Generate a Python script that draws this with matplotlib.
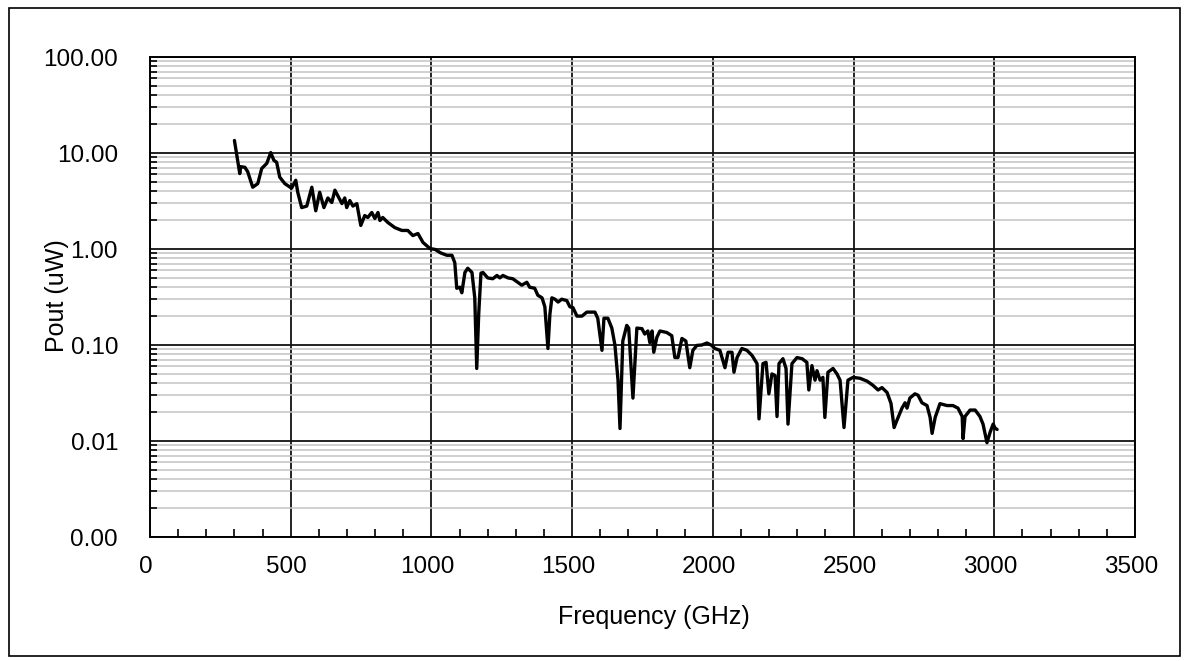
import matplotlib
matplotlib.use("Agg")
import matplotlib.pyplot as plt
import matplotlib.ticker as mticker
import matplotlib.transforms as mtransforms
from matplotlib.patches import Rectangle

# ---- data ----
freq_ghz = [300, 319, 322, 337, 347, 365, 383, 397, 415, 429, 440, 450, 461, 479,
            503, 518, 525, 539, 557, 575, 589, 603, 618, 632, 646, 657, 667, 682,
            692, 699, 710, 721, 735, 749, 763, 774, 788, 799, 810, 817, 827, 845,
            870, 895, 916, 934, 952, 970, 995, 1013, 1030, 1037, 1055, 1073, 1083,
            1090, 1101, 1108, 1119, 1129, 1144, 1154, 1161, 1168, 1176, 1183, 1200,
            1218, 1233, 1243, 1254, 1272, 1289, 1307, 1321, 1339, 1349, 1367, 1378,
            1393, 1403, 1414, 1421, 1428, 1439, 1450, 1463, 1481, 1492, 1503, 1517,
            1535, 1552, 1570, 1581, 1591, 1606, 1613, 1627, 1641, 1652, 1663, 1670,
            1680, 1694, 1701, 1716, 1730, 1748, 1758, 1769, 1776, 1784, 1790, 1801,
            1812, 1836, 1854, 1865, 1876, 1890, 1904, 1918, 1929, 1943, 1961, 1979,
            1996, 2007, 2025, 2043, 2054, 2068, 2075, 2086, 2103, 2121, 2139, 2157,
            2164, 2178, 2189, 2199, 2210, 2221, 2228, 2235, 2249, 2260, 2267, 2281,
            2299, 2317, 2334, 2341, 2352, 2363, 2370, 2381, 2391, 2398, 2409, 2427,
            2441, 2452, 2466, 2480, 2498, 2523, 2548, 2569, 2587, 2601, 2619, 2633,
            2644, 2654, 2672, 2683, 2690, 2700, 2718, 2729, 2743, 2761, 2772, 2779,
            2790, 2807, 2832, 2853, 2871, 2886, 2889, 2896, 2914, 2932, 2949, 2960,
            2974, 2985, 2996, 3003, 3010]
pout_uw = [13.5, 6.1, 7.2, 7.1, 6.4, 4.4, 4.8, 6.9, 7.8, 10.1, 8.4, 8.0, 5.6, 4.8,
           4.3, 5.2, 3.9, 2.7, 2.8, 4.4, 2.5, 3.9, 2.7, 3.4, 3.05, 4.1, 3.6, 2.97,
           3.4, 2.7, 3.2, 2.8, 2.97, 1.76, 2.23, 2.13, 2.4, 2.08, 2.4, 1.98, 2.13, 1.89,
           1.67, 1.56, 1.56, 1.38, 1.45, 1.17, 1.01, 0.99, 0.92, 0.90, 0.86, 0.86, 0.72,
           0.39, 0.40, 0.35, 0.57, 0.63, 0.57, 0.31, 0.057, 0.21, 0.56, 0.57, 0.50,
           0.49, 0.53, 0.50, 0.53, 0.50, 0.49, 0.45, 0.42, 0.45, 0.40, 0.39, 0.33,
           0.31, 0.25, 0.092, 0.21, 0.31, 0.30, 0.28, 0.30, 0.29, 0.25, 0.245, 0.20,
           0.20, 0.22, 0.22, 0.22, 0.19, 0.088, 0.19, 0.19, 0.15, 0.10, 0.043, 0.0135,
           0.11, 0.16, 0.15, 0.028, 0.15, 0.148, 0.13, 0.14, 0.106, 0.14, 0.084, 0.12,
           0.14, 0.135, 0.125, 0.074, 0.074, 0.117, 0.11, 0.058, 0.088, 0.099, 0.10, 0.105,
           0.099, 0.092, 0.088, 0.058, 0.084, 0.084, 0.052, 0.074, 0.092, 0.088, 0.078, 0.064,
           0.017, 0.064, 0.066, 0.031, 0.050, 0.048, 0.018, 0.064, 0.072, 0.057, 0.015, 0.064,
           0.074, 0.072, 0.066, 0.034, 0.061, 0.043, 0.054, 0.043, 0.046, 0.0176, 0.052, 0.057,
           0.050, 0.043, 0.0138, 0.043, 0.046, 0.045, 0.042, 0.038, 0.034, 0.036, 0.032, 0.0246,
           0.0138, 0.0164, 0.022, 0.025, 0.022, 0.028, 0.031, 0.030, 0.025, 0.0234, 0.0176, 0.012,
           0.0176, 0.0245, 0.0234, 0.0234, 0.022, 0.018, 0.0106, 0.018, 0.021, 0.021, 0.018, 0.015,
           0.0096, 0.0123, 0.015, 0.0136, 0.0132]

x_ticks = [0, 500, 1000, 1500, 2000, 2500, 3000, 3500]
y_ticks = [0.001, 0.01, 0.1, 1, 10, 100]

x_label = "Frequency (GHz)"
y_label = "Pout (uW)"

# ---- figure ----
W, H = 1188, 661
plt.rcParams['font.family'] = ['Liberation Sans', 'DejaVu Sans']
fig = plt.figure(figsize=(W / 100, H / 100), dpi=100)
fig.patch.set_facecolor('white')

# outer chart border
fig.add_artist(Rectangle((9 / W, 1 - 656 / H), (1180 - 9) / W, (656 - 8) / H,
                         transform=fig.transFigure, fill=False,
                         edgecolor='black', linewidth=1.2))

left, right, top, bottom = 150, 1135, 57, 537
ax = fig.add_axes([left / W, 1 - bottom / H, (right - left) / W, (bottom - top) / H])

ax.set_yscale('log')
ax.set_xlim(0, 3500)
ax.set_ylim(0.001, 100)

# grids
ax.yaxis.set_minor_locator(mticker.LogLocator(base=10, subs=range(2, 10), numticks=20))
ax.xaxis.set_minor_locator(mticker.MultipleLocator(100))
ax.set_xticks(x_ticks)
ax.set_yticks(y_ticks)
ax.yaxis.set_major_formatter(mticker.FuncFormatter(lambda v, p: f"{v:.2f}"))
ax.yaxis.set_minor_formatter(mticker.NullFormatter())

ax.grid(which='minor', axis='y', color='#c4c4c4', linewidth=1.1)
ax.grid(which='major', axis='both', color='#111111', linewidth=1.3)
ax.set_axisbelow(True)

ax.plot(freq_ghz, pout_uw, color='black', linewidth=2.4, zorder=3,
        solid_joinstyle='round', solid_capstyle='round')

for s in ax.spines.values():
    s.set_linewidth(1.4)
    s.set_color('black')

ax.tick_params(axis='both', which='both', direction='in', top=False, right=False)
ax.tick_params(axis='x', which='major', length=0, pad=14, labelsize=17.5)
ax.tick_params(axis='x', which='minor', length=6, width=1.2)
ax.tick_params(axis='y', which='major', length=0, pad=23, labelsize=17.5)
ax.tick_params(axis='y', which='minor', length=5, width=1.2)

offset = mtransforms.ScaledTranslation(-4 / 100, 0, fig.dpi_scale_trans)
for lab in ax.get_xticklabels():
    lab.set_transform(lab.get_transform() + offset)

fig.text(654 / W, 1 - 617 / H, x_label, ha='center', va='center', fontsize=18)
fig.text(57 / W, 1 - 296 / H, y_label, ha='center', va='center', rotation=90, fontsize=18)

fig.savefig('out.png', dpi=100, facecolor='white')
